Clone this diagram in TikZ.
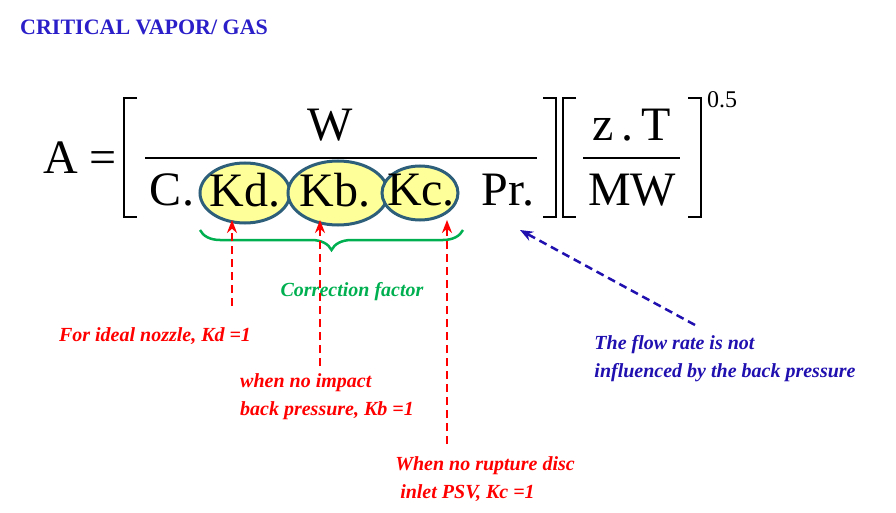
\documentclass[tikz,border=0pt]{standalone}
\usepackage{fontspec}
\setmainfont{Liberation Serif}
\usetikzlibrary{decorations.pathreplacing,arrows.meta}
\definecolor{tblue}{HTML}{2A1FC8}
\definecolor{ered}{HTML}{FF0000}
\definecolor{egreen}{HTML}{00B050}
\definecolor{ell}{HTML}{FFFF99}
\definecolor{elb}{HTML}{2E5F7A}
\definecolor{dblue}{HTML}{2010B0}
\begin{document}
\begin{tikzpicture}[x=1pt,y=-1pt,
 big/.style={font=\fontsize{48}{48}\selectfont,inner sep=0pt},
 lab/.style={font=\fontsize{20}{28}\selectfont\bfseries\itshape,inner sep=0pt},
 el/.style={draw=elb,line width=3pt,fill=ell},
 darr/.style={dash pattern=on 8pt off 5pt,line width=2.5pt,-{Stealth[length=13pt,width=10pt]}},
 brk/.style={line width=2.5pt}]
\useasboundingbox (0,0) rectangle (896,513);
\node[font=\fontsize{22}{22}\selectfont\bfseries,text=tblue,anchor=west,inner sep=0pt] (title) at (20,27) {CRITICAL VAPOR/ GAS};
% ellipses
\path[el] (245,193) ellipse [x radius=45,y radius=30];
\path[el] (338,193) ellipse [x radius=50,y radius=32];
\path[el] (420,193) ellipse [x radius=38,y radius=27];
\node[big] (A) at (80,158) {A =};
% brackets
\draw[brk] (137,98) -- (124,98) -- (124,217) -- (137,217);
\draw[brk] (543,98) -- (556,98) -- (556,217) -- (543,217);
\draw[brk] (576,98) -- (563,98) -- (563,217) -- (576,217);
\draw[brk] (688,98) -- (701,98) -- (701,217) -- (688,217);
\draw[line width=2.5pt] (145,158) -- (537,158);
\draw[line width=2.5pt] (583,158) -- (680,158);
\node[big] (W) at (330,125) {W};
\node[big] (C) at (172,190) {C.};
\node[big] (Kd) at (245,190) {Kd.};
\node[big] (Kb) at (335,190) {Kb.};
\node[big] (Kc) at (421,190) {Kc.};
\node[big] (Pr) at (508,190) {Pr.};
\node[big] (zT) at (632,125) {z\,.\,T};
\node[big] (MW) at (632,190) {MW};
\node[font=\fontsize{24}{24}\selectfont,inner sep=0pt] (exp) at (722,100) {0.5};
% brace
\draw[egreen,line width=2.5pt,decorate,decoration={brace,mirror,amplitude=20pt}] (200,230) -- (463,230);
\node[lab,text=egreen] (cf) at (352,292) {Correction factor};
% red arrows
\coordinate (t1) at (232,220); \coordinate (t2) at (320,220); \coordinate (t3) at (447,220);
\node[lab,text=ered] (l1) at (155,336) {For ideal nozzle, Kd =1};
\node[lab,text=ered,align=left] (l2) at (327,397) {when no impact\\back pressure, Kb =1};
\node[lab,text=ered,align=left] (l3) at (485,479) {When no rupture disc\\\ inlet PSV, Kc =1};
\coordinate (s1) at (232,306); \coordinate (s2) at (320,366); \coordinate (s3) at (447,444);
\draw[darr,ered] (s1) -- (t1);
\draw[darr,ered] (s2) -- (t2);
\draw[darr,ered] (s3) -- (t3);
% blue
\node[lab,text=dblue,align=left] (l4) at (725,359) {The flow rate is not\\influenced by the back pressure};
\coordinate (b1) at (695,325); \coordinate (b2) at (520,230);
\draw[darr,dblue] (b1) -- (b2);
\end{tikzpicture}
\end{document}
